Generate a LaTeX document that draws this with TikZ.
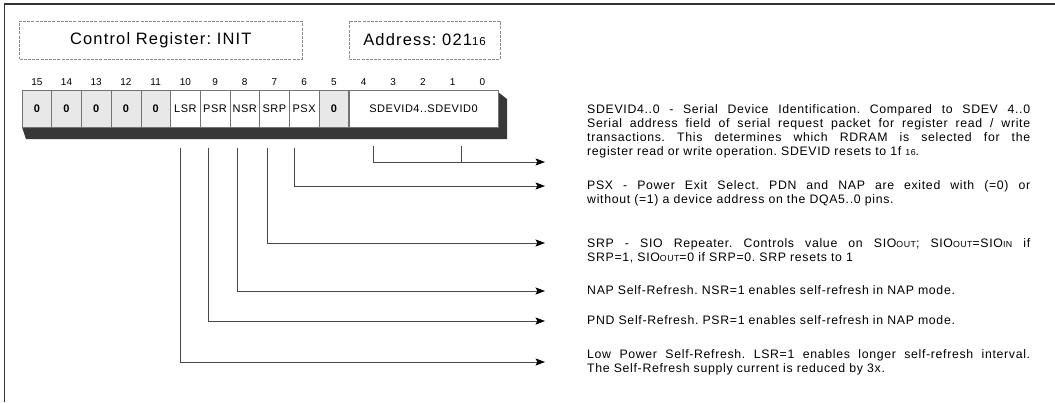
\documentclass[tikz,border=0pt]{standalone}
\usepackage{fontspec}
\setmainfont{Liberation Sans}
\newfontfamily\descfont[LetterSpace=5.5]{Liberation Sans}
\newfontfamily\titlefont[LetterSpace=7]{Liberation Sans}
\newfontfamily\cellfont[LetterSpace=5]{Liberation Sans}
\usetikzlibrary{arrows.meta}
\frenchspacing
\newcommand\smtxt[1]{{\fontsize{8.8}{8.8}\selectfont #1}}
\newcommand\smtitle[1]{{\fontsize{11.5}{11.5}\selectfont #1}}
\tikzset{
  frameline/.style={draw=black!80, line width=1.3pt},
  titlebox/.style={draw=black!45, dash pattern=on 3pt off 1.2pt, line width=0.5pt,
    inner sep=0pt, font=\titlefont\fontsize{16.5}{18}\selectfont},
  regcell/.style={draw=black!55, fill=white, line width=0.5pt, minimum width=29.7pt,
    minimum height=37pt, inner sep=0pt, font=\cellfont\fontsize{11}{12}\selectfont},
  zerocell/.style={regcell, fill=black!9, font=\cellfont\bfseries\fontsize{11}{12}\selectfont},
  bitnum/.style={inner sep=0pt, font=\fontsize{10}{10}\selectfont},
  shadowfill/.style={fill=black!78},
  conn/.style={draw=black!72, line width=0.6pt},
  connarrow/.style={conn, -{Stealth[length=9.5pt,width=7pt,inset=2pt,color=black]}},
  desc/.style={anchor=base west, inner sep=0pt, text width=443pt, align=justify,
    font=\descfont\fontsize{12.3}{14.2}\selectfont},
}
\begin{document}
\begin{tikzpicture}[x=1pt,y=-1pt]
\useasboundingbox (0,0) rectangle (1055,402);
% outer frame (top and left edges)
\draw[frameline] (4.5,402) -- (4.5,4) -- (1055,4);

% header boxes
\node[titlebox, minimum width=282.4pt, minimum height=38pt] (title) at (160.8,40) {Control Register: INIT};
\node[titlebox, minimum width=151pt, minimum height=38pt] (addr) at (424.5,40) {Address: 021\smtitle{16}};

% shadow of the register row
\fill[shadowfill] (22,127) -- (26,139) -- (507,139) -- (507,99) -- (498,92) -- (498,127) -- cycle;

% register cells
\foreach \b/\lab/\sty in {15/0/zerocell,14/0/zerocell,13/0/zerocell,12/0/zerocell,11/0/zerocell,
  10/LSR/regcell,9/PSR/regcell,8/NSR/regcell,7/SRP/regcell,6/PSX/regcell,5/0/zerocell}{
  \node[\sty] (c\b) at ({36.85+(15-\b)*29.7},108.5) {\lab};
}
\node[regcell, minimum width=149pt] (csd) at (423.5,108.5) {SDEVID4..SDEVID0};

% bit numbers
\foreach \b in {15,14,...,0}{
  \node[bitnum] (n\b) at ({36.85+(15-\b)*29.7},82) {\b};
}

% connector end points
\coordinate (sLSR) at (180,148);
\coordinate (sPSR) at (208,148);
\coordinate (sNSR) at (237,148);
\coordinate (sSRP) at (267,148);
\coordinate (sPSX) at (294,148);
\coordinate (sSDa) at (373,146);
\coordinate (sSDb) at (461,146);
\coordinate (eSD)  at (545,162);
\coordinate (ePSX) at (545,186);
\coordinate (eSRP) at (545,243);
\coordinate (eNSR) at (545,291);
\coordinate (ePSR) at (545,321);
\coordinate (eLSR) at (545,362);

% connectors
\draw[connarrow] (sSDa) |- (eSD);
\draw[conn] (sSDb) -- (sSDb |- eSD);
\draw[connarrow] (sPSX) |- (ePSX);
\draw[connarrow] (sSRP) |- (eSRP);
\draw[connarrow] (sNSR) |- (eNSR);
\draw[connarrow] (sPSR) |- (ePSR);
\draw[connarrow] (sLSR) |- (eLSR);

% descriptions
\node[desc] (tSD) at (587,113) {SDEVID4..0 - Serial Device Identification. Compared to SDEV 4..0\linebreak
Serial address field of serial request packet for register read / write\linebreak
transactions. This determines which RDRAM is selected for the\linebreak
register read or write operation. SDEVID resets to 1f \smtxt{16}.};
\node[desc] (tPSX) at (587,189) {PSX - Power Exit Select. PDN and NAP are exited with (=0) or\linebreak
without (=1) a device address on the DQA5..0 pins.};
\node[desc] (tSRP) at (587,247) {SRP - SIO Repeater. Controls value on SIO\smtxt{OUT}; SIO\smtxt{OUT}=SIO\smtxt{IN} if\linebreak
SRP=1, SIO\smtxt{OUT}=0 if SRP=0. SRP resets to 1};
\node[desc] (tNSR) at (587,294) {NAP Self-Refresh. NSR=1 enables self-refresh in NAP mode.};
\node[desc] (tPSR) at (587,324) {PND Self-Refresh. PSR=1 enables self-refresh in NAP mode.};
\node[desc] (tLSR) at (587,358) {Low Power Self-Refresh. LSR=1 enables longer self-refresh interval.\linebreak
The Self-Refresh supply current is reduced by 3x.};
\end{tikzpicture}
\end{document}
